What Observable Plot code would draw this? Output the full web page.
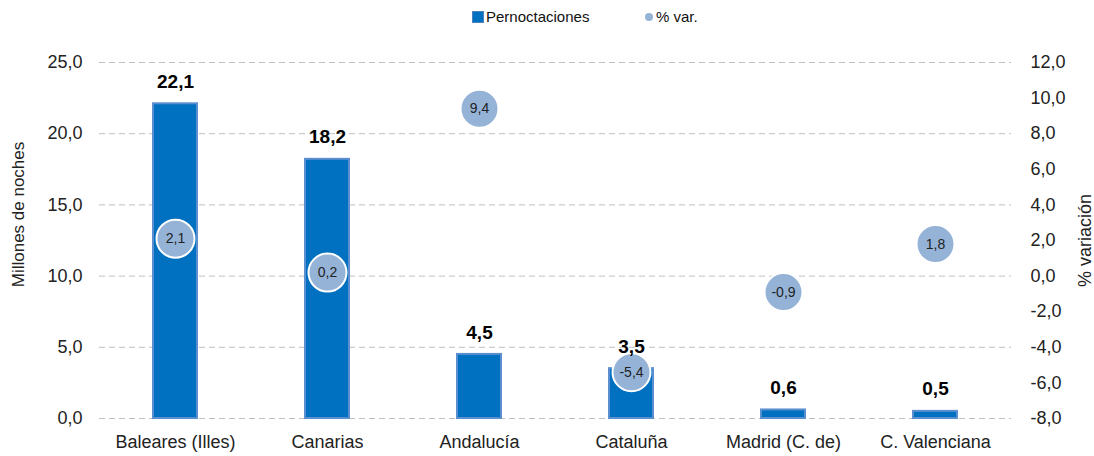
<!DOCTYPE html>
<html>
<head>
<meta charset="utf-8">
<script src="https://cdn.jsdelivr.net/npm/d3@7"></script>
<script src="https://cdn.jsdelivr.net/npm/@observablehq/plot@0.6"></script>
<style>
  body { margin: 0; background: #fff; font-family: "Liberation Sans", Arial, sans-serif; }
  #legend { height: 30px; position: relative; font-size: 15px; color: #111; }
  #legend .item { position: absolute; top: 8px; display: flex; align-items: center; }
  #legend .sq { width: 10px; height: 10px; background: #0070c0; border: 1px solid #4f81bd; margin-right: 2px; }
  #legend .ci { width: 8px; height: 8px; border-radius: 50%; background: #95b3d7; margin-right: 3px; }
</style>
</head>
<body>
<div id="legend">
  <div class="item" style="left:472px"><span class="sq"></span>Pernoctaciones</div>
  <div class="item" style="left:645px"><span class="ci"></span>% var.</div>
</div>
<div id="chart"></div>
<script>
const regions = ["Baleares (Illes)", "Canarias", "Andalucía", "Cataluña", "Madrid (C. de)", "C. Valenciana"];
const nights = [22.1, 18.2, 4.5, 3.5, 0.6, 0.5];
const variation = [2.1, 0.2, 9.4, -5.4, -0.9, 1.8];
const leftTicks = [0, 5, 10, 15, 20, 25];
const rightTicks = [-8, -6, -4, -2, 0, 2, 4, 6, 8, 10, 12];
const leftDomain = [0, 25];
const rightDomain = [-8, 12];

const fmt = v => (Math.round(v * 10) / 10).toFixed(1).replace(".", ",");
// map right-axis value onto the left (primary) y scale
const toLeft = v => (v - rightDomain[0]) / (rightDomain[1] - rightDomain[0]) * (leftDomain[1] - leftDomain[0]) + leftDomain[0];
const fromLeft = y => (y - leftDomain[0]) / (leftDomain[1] - leftDomain[0]) * (rightDomain[1] - rightDomain[0]) + rightDomain[0];

const data = regions.map((r, i) => ({region: r, nights: nights[i], variation: variation[i], vy: toLeft(variation[i])}));

const chart = Plot.plot({
  width: 1094,
  height: 426,
  marginTop: 32,
  marginBottom: 38,
  marginLeft: 99,
  marginRight: 83,
  style: {fontFamily: "'Liberation Sans', Arial, sans-serif", fontSize: "18px", color: "#222", background: "#fff"},
  x: {domain: regions, paddingInner: 0.71, paddingOuter: 0.355},
  y: {domain: leftDomain},
  marks: [
    Plot.ruleY(leftTicks, {stroke: "#bfbfbf", strokeDasharray: "6,4", strokeWidth: 1}),
    Plot.axisY(leftTicks, {anchor: "left", tickSize: 0, tickPadding: 17, tickFormat: fmt, label: null, fontSize: 18}),
    Plot.text(["Millones de noches"], {frameAnchor: "left", textAnchor: "middle", rotate: -90, dx: -81, dy: -26, fontSize: 17, fill: "#222"}),
    Plot.axisY(rightTicks.map(toLeft), {anchor: "right", tickSize: 0, tickPadding: 19,
      tickFormat: d => fmt(fromLeft(d)), label: "% variación", labelAnchor: "center", labelOffset: 79, labelArrow: "none", fontSize: 18}),
    Plot.axisX({tickSize: 0, tickPadding: 17, label: null, fontSize: 18}),
    Plot.barY(data, {x: "region", y: "nights", fill: "#0070c0", stroke: "#5b8fd0", strokeWidth: 2}),
    Plot.dot(data, {x: "region", y: "vy", r: 19, fill: "#95b3d7", stroke: "white", strokeWidth: 2}),
    Plot.text(data, {x: "region", y: "vy", text: d => fmt(d.variation), fontSize: 14, fill: "#222"}),
    Plot.text(data, {x: "region", y: "nights", text: d => fmt(d.nights), dy: -22, fontWeight: "bold", fontSize: 19, fill: "#000"})
  ]
});
document.getElementById("chart").appendChild(chart);
</script>
</body>
</html>
